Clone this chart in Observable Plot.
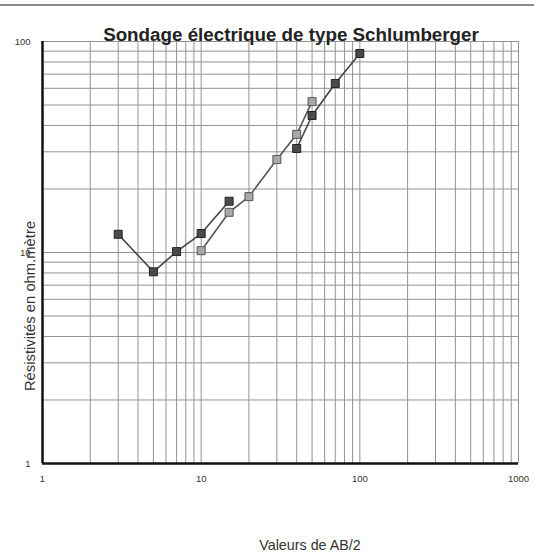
<!DOCTYPE html>
<html>
<head>
<meta charset="utf-8">
<script src="https://cdn.jsdelivr.net/npm/d3@7"></script>
<script src="https://cdn.jsdelivr.net/npm/@observablehq/plot@0.6"></script>
<style>
  html, body { margin: 0; padding: 0; background: #fff; }
  #wrap { position: relative; width: 534px; height: 556px; overflow: hidden; font-family: "Liberation Sans", Arial, sans-serif; }
  #topline { position: absolute; left: 0; top: 4px; width: 534px; height: 2px; background: #8a8a8a; }
  #title { position: absolute; left: 0; width: 582px; top: 24px; text-align: center; font-weight: bold; font-size: 18.8px; color: #222; line-height: 22px; white-space: nowrap; }
  #ylab { position: absolute; left: 30px; top: 306px; transform: translate(-50%, -50%) rotate(-90deg); font-size: 14.8px; color: #333; white-space: nowrap; }
  #xlab { position: absolute; left: 0; width: 620px; top: 537px; text-align: center; font-size: 14.3px; color: #333; white-space: nowrap; }
  #chart { position: absolute; left: 0; top: 0; }
</style>
</head>
<body>
<div id="wrap">
  <div id="chart"></div>
  <div id="topline"></div>
  <div id="title">Sondage électrique de type Schlumberger</div>
  <div id="ylab">Résistivités en ohm.mètre</div>
  <div id="xlab">Valeurs de AB/2</div>
</div>
<script>
// Data
const abHalf    = [3, 5, 7, 10, 15, 20, 30, 40, 50, 70, 100];
const rhoDark   = [12.2, 8.1, 10.1, 12.3, 17.5, null, null, 31.1, 44.6, 63.2, 87.7];
const rhoLight  = [null, null, null, 10.2, 15.5, 18.4, 27.6, 36.3, 51.9, null, null];
const xTicks    = [1, 10, 100, 1000];
const yTicks    = [1, 10, 100];

const darkData  = abHalf.map((x, i) => ({x, y: rhoDark[i]}));
const lightData = abHalf.map((x, i) => ({x, y: rhoLight[i]}));

// log minor grid positions
const minor = (lo, hi) => {
  const out = [];
  for (let d = lo; d < hi; d *= 10) for (let k = 1; k < 10; k++) out.push(d * k);
  out.push(hi);
  return out;
};
const xGrid = minor(1, 1000);
const yGrid = minor(1, 100);

const chart = Plot.plot({
  width: 534,
  height: 556,
  marginLeft: 42,
  marginRight: 16,
  marginTop: 41,
  marginBottom: 93,
  style: { fontFamily: "Liberation Sans, Arial, sans-serif", fontSize: "9.5px", color: "#333", background: "transparent" },
  x: { type: "log", domain: [1, 1000], ticks: xTicks, tickFormat: d => String(d), tickSize: 0, tickPadding: 12, label: null },
  y: { type: "log", domain: [1, 100], ticks: yTicks, tickFormat: d => String(d), tickSize: 0, tickPadding: 12, label: null },
  marks: [
    Plot.ruleX(xGrid, { stroke: "#939393", strokeWidth: 1 }),
    Plot.ruleY(yGrid, { stroke: "#939393", strokeWidth: 1 }),
    Plot.ruleX([1], { stroke: "#111", strokeWidth: 2.5 }),
    Plot.ruleY([1], { stroke: "#111", strokeWidth: 2.5 }),
    Plot.line(lightData, { x: "x", y: "y", stroke: "#555", strokeWidth: 1.6 }),
    Plot.dot(lightData, { x: "x", y: "y", symbol: "square", r: 4.5, fill: "#a9a9ab", stroke: "#555", strokeWidth: 1 }),
    Plot.line(darkData, { x: "x", y: "y", stroke: "#444", strokeWidth: 1.6 }),
    Plot.dot(darkData, { x: "x", y: "y", symbol: "square", r: 4.5, fill: "#4a4a4a", stroke: "#222", strokeWidth: 1 })
  ]
});
document.getElementById("chart").appendChild(chart);
</script>
</body>
</html>
